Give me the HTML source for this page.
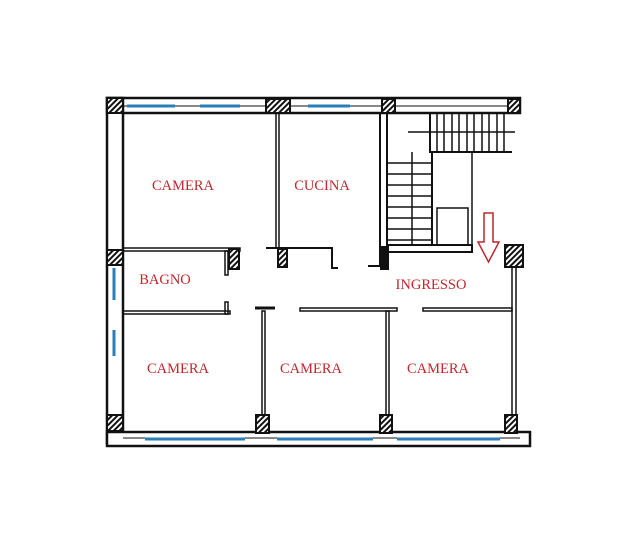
<!DOCTYPE html>
<html><head><style>
html,body{margin:0;padding:0;background:#fff;}
svg{display:block;}
text{font-family:"Liberation Serif",serif;font-size:14.5px;fill:#c0282d;}
</style></head><body>
<svg width="640" height="550" viewBox="0 0 640 550" xmlns="http://www.w3.org/2000/svg">
<defs>
<pattern id="h" width="4" height="4" patternUnits="userSpaceOnUse" patternTransform="rotate(45)">
<rect width="4" height="4" fill="#fff"/><rect width="2" height="4" fill="#111"/>
</pattern>
</defs>
<g stroke="#111" fill="none" stroke-width="2.5">
<rect x="107" y="98" width="413" height="15" fill="#fff"/>
<line x1="123" y1="106" x2="510" y2="106" stroke-width="1"/>
<rect x="107" y="98" width="16" height="345" fill="#fff"/>
<rect x="107" y="432" width="423" height="14" fill="#fff"/>
<line x1="123" y1="438" x2="520" y2="438" stroke-width="1"/>
<rect x="512" y="262" width="4" height="170" fill="#fff" stroke-width="1.5"/>
<rect x="276" y="113" width="3" height="135" stroke-width="1.5"/>
<rect x="123" y="248" width="117" height="3" stroke-width="1.5"/>
<rect x="225" y="251" width="3" height="24" stroke-width="1.5"/>
<path d="M266 248 H332 V268 H338" stroke-width="2"/>
<rect x="380" y="113" width="7" height="153" stroke-width="2"/>
<path d="M368 266 H385" stroke-width="2"/>
<rect x="123" y="311" width="107" height="3" stroke-width="1.5"/>
<rect x="225" y="302" width="3" height="12" stroke-width="1.5"/>
<path d="M255 308 H275" stroke-width="3"/>
<rect x="300" y="308" width="97" height="3" stroke-width="1.5"/>
<rect x="423" y="308" width="89" height="3" stroke-width="1.5"/>
<rect x="262" y="311" width="3" height="105" stroke-width="1.5"/>
<rect x="386" y="311" width="3" height="105" stroke-width="1.5"/>
<rect x="388" y="245" width="84" height="7" stroke-width="2"/>
<path d="M430 113 V152 H512" stroke-width="2"/>
<path d="M432 152 V245" stroke-width="2"/>
<path d="M472 152 V245" stroke-width="1.5"/>
<rect x="437" y="208" width="31" height="37" stroke-width="1.5"/>
<g stroke-width="1.5">
<line x1="437" y1="113" x2="437" y2="152"/><line x1="444" y1="113" x2="444" y2="152"/>
<line x1="452" y1="113" x2="452" y2="152"/><line x1="459" y1="113" x2="459" y2="152"/>
<line x1="467" y1="113" x2="467" y2="152"/><line x1="474" y1="113" x2="474" y2="152"/>
<line x1="482" y1="113" x2="482" y2="152"/><line x1="489" y1="113" x2="489" y2="152"/>
<line x1="497" y1="113" x2="497" y2="152"/><line x1="504" y1="113" x2="504" y2="152"/>
<line x1="408" y1="132" x2="515" y2="132"/>
<line x1="388" y1="163" x2="432" y2="163"/><line x1="388" y1="174" x2="432" y2="174"/>
<line x1="388" y1="185" x2="432" y2="185"/><line x1="388" y1="196" x2="432" y2="196"/>
<line x1="388" y1="207" x2="432" y2="207"/><line x1="388" y1="218" x2="432" y2="218"/>
<line x1="388" y1="229" x2="432" y2="229"/><line x1="388" y1="240" x2="432" y2="240"/>
<line x1="412" y1="152" x2="412" y2="245"/>
</g>
</g>
<g stroke="#2a7fb8" stroke-width="3">
<line x1="127" y1="106" x2="175" y2="106"/><line x1="200" y1="106" x2="240" y2="106"/>
<line x1="308" y1="106" x2="350" y2="106"/>
<line x1="145" y1="439" x2="245" y2="439"/><line x1="277" y1="439" x2="373" y2="439"/>
<line x1="397" y1="439" x2="500" y2="439"/>
<line x1="114" y1="268" x2="114" y2="300"/><line x1="114" y1="330" x2="114" y2="356"/>
</g>
<g fill="url(#h)" stroke="#111" stroke-width="2">
<rect x="107" y="98" width="16" height="15"/><rect x="266" y="99" width="24" height="14"/>
<rect x="382" y="99" width="13" height="14"/><rect x="508" y="99" width="12" height="14"/>
<rect x="107" y="250" width="16" height="15"/><rect x="107" y="415" width="16" height="16"/>
<rect x="229" y="249" width="10" height="20"/><rect x="278" y="249" width="9" height="18"/>
<rect x="381" y="247" width="7" height="22" fill="#111"/>
<rect x="505" y="245" width="18" height="22"/>
<rect x="256" y="415" width="13" height="18"/><rect x="380" y="415" width="12" height="18"/>
<rect x="505" y="415" width="12" height="18"/>
</g>
<path d="M484 213 H493 V242 H499 L488.5 262 L478 242 H484 Z" fill="none" stroke="#c0282d" stroke-width="1.5"/>
<text x="183" y="190" text-anchor="middle">CAMERA</text>
<text x="322" y="190" text-anchor="middle">CUCINA</text>
<text x="165" y="284" text-anchor="middle">BAGNO</text>
<text x="431" y="289" text-anchor="middle">INGRESSO</text>
<text x="178" y="373" text-anchor="middle">CAMERA</text>
<text x="311" y="373" text-anchor="middle">CAMERA</text>
<text x="438" y="373" text-anchor="middle">CAMERA</text>
</svg>
</body></html>
